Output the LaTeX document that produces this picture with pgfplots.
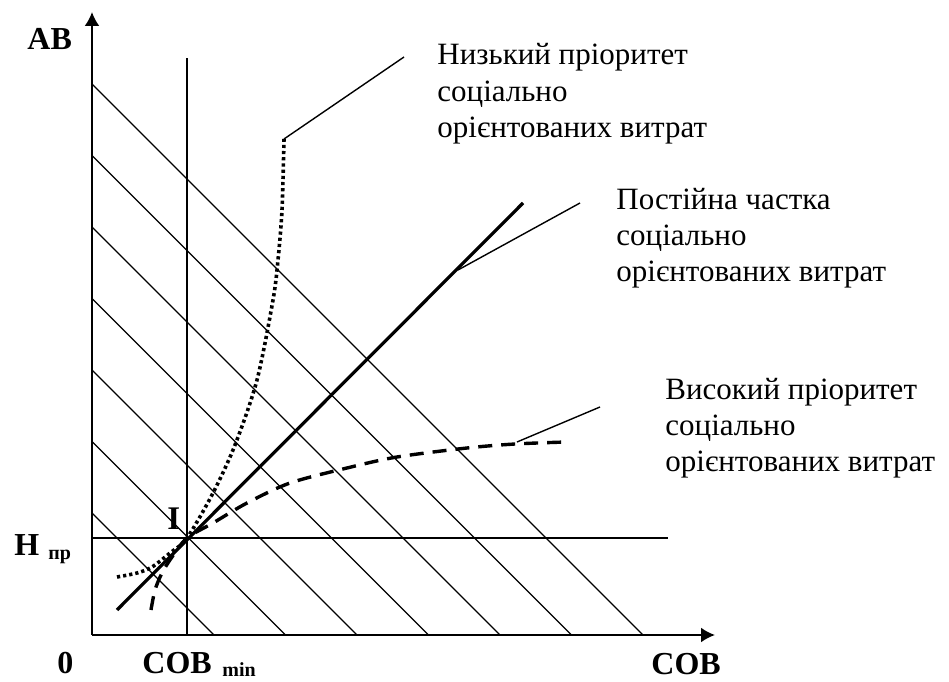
\documentclass[border=0pt]{standalone}
\usepackage{pgfplots}
\pgfplotsset{compat=1.18}
\usepackage{fontspec}
\setmainfont{Liberation Serif}
\usetikzlibrary{arrows.meta}
\begin{document}
\begin{tikzpicture}
\begin{axis}[
  scale only axis, width=474.5pt, height=340.5pt,
  xmin=-92, xmax=857, ymin=-46, ymax=635,
  hide axis, clip=false,
]
\path (rel axis cs:0,0) rectangle (rel axis cs:1,1);
% axes
\addplot[black, line width=1pt, -{Latex[length=7pt,width=7.5pt]}] coordinates {(0,0) (623,0)};
\addplot[black, line width=1pt, -{Latex[length=7pt,width=7.5pt]}] coordinates {(0,0) (0,623)};
% iso lines x+y=c
\addplot[black, line width=0.7pt] coordinates {(0,551) (551,0)};
\addplot[black, line width=0.7pt] coordinates {(0,479.5) (479.5,0)};
\addplot[black, line width=0.7pt] coordinates {(0,408) (408,0)};
\addplot[black, line width=0.7pt] coordinates {(0,336.5) (336.5,0)};
\addplot[black, line width=0.7pt] coordinates {(0,265) (265,0)};
\addplot[black, line width=0.7pt] coordinates {(0,193.5) (193.5,0)};
\addplot[black, line width=0.7pt] coordinates {(0,122) (122,0)};
% COB min and H np
\addplot[black, line width=0.7pt] coordinates {(95,0) (95,577)};
\addplot[black, line width=0.7pt] coordinates {(0,97) (576,97)};
% constant share (solid)
\addplot[black, line width=1.6pt] coordinates {(25,25) (431,432)};
% low priority (dotted)
\addplot[black, line width=1.8pt, dash pattern=on 1.6pt off 1.5pt, smooth] coordinates {
 (25,58) (45,62) (60,68) (78,82) (95,97) (121,142) (143,190) (165,255) (181,335) (186,375) (190,425) (192,496)};
% high priority (dashed)
\addplot[black, line width=1.7pt, dash pattern=on 7pt off 4.5pt, smooth] coordinates {
 (59,25) (63,45) (70,62) (80,78) (95,97) (121,112) (155,132) (198,152) (255,167) (305,178) (375,187) (423,191) (474,193)};
% leaders
\addplot[black, line width=0.7pt] coordinates {(192,496) (312,578)};
\addplot[black, line width=0.7pt] coordinates {(366,365) (488,432)};
\addplot[black, line width=0.7pt] coordinates {(425,193) (508,228)};
% annotation texts
\begin{scope}[every node/.style={anchor=base west, inner sep=0pt, font=\fontsize{15.5}{18}\selectfont}]
\node at (axis cs:345,570) {Низький пріоритет};
\node at (axis cs:345,533) {соціально};
\node at (axis cs:345,497) {орієнтованих витрат};
\node at (axis cs:524,425) {Постійна частка};
\node at (axis cs:524,389) {соціально};
\node at (axis cs:524,353) {орієнтованих витрат};
\node at (axis cs:573,235) {Високий пріоритет};
\node at (axis cs:573,199) {соціально};
\node at (axis cs:573,163) {орієнтованих витрат};
\end{scope}
\begin{scope}[every node/.style={anchor=base west, inner sep=0pt, font=\bfseries\fontsize{16}{18}\selectfont}]
\node at (axis cs:-65,585) {АВ};
\node at (axis cs:-78,80) {Н};
\node at (axis cs:-35,-38) {0};
\node at (axis cs:50,-38) {СОВ};
\node at (axis cs:559,-39) {СОВ};
\node[font=\bfseries\fontsize{16.5}{18}\selectfont] at (axis cs:75,105) {I};
\end{scope}
\begin{scope}[every node/.style={anchor=base west, inner sep=0pt, font=\bfseries\fontsize{10}{12}\selectfont}]
\node at (axis cs:-44,75) {пр};
\node at (axis cs:130,-42) {min};
\end{scope}
\end{axis}
\end{tikzpicture}
\end{document}
